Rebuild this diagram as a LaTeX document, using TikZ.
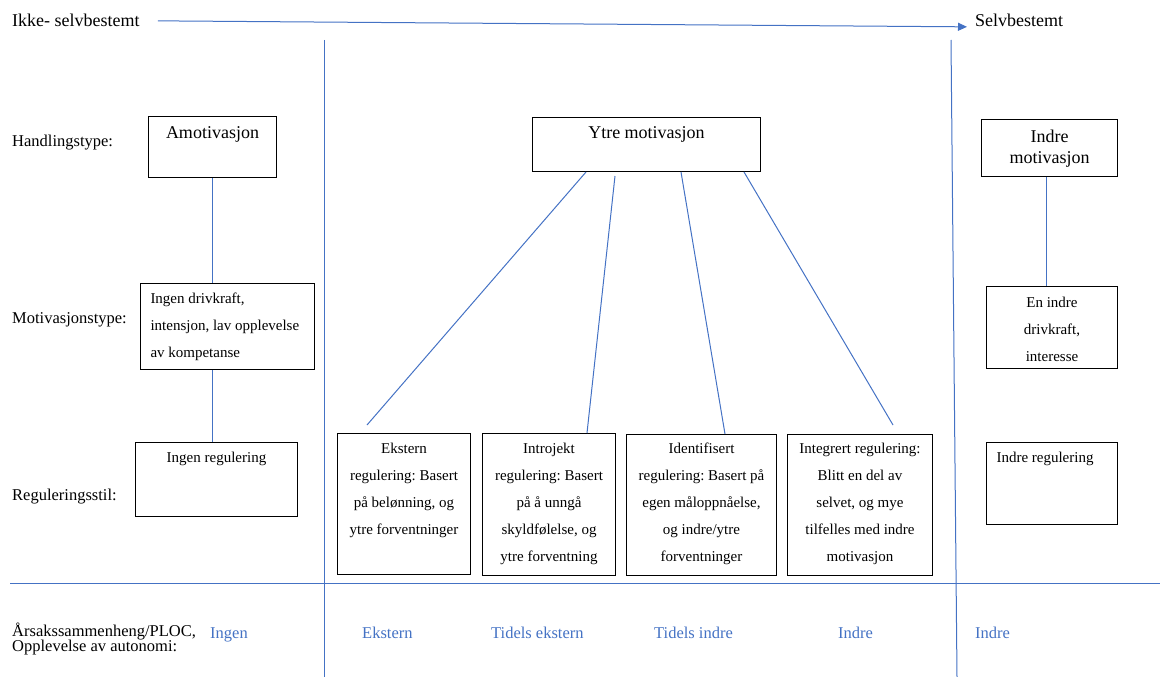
\documentclass[tikz,border=0pt]{standalone}
\usepackage{fontspec}
\setmainfont{Liberation Serif}
\usetikzlibrary{arrows.meta}
\frenchspacing

\definecolor{lineblue}{HTML}{4472C4}
\newcommand{\headfont}{\fontsize{18}{21}\selectfont}
\newcommand{\bodyfont}{\fontsize{15}{27}\selectfont}
\newcommand{\labfont}{\fontsize{16.5}{14.5}\selectfont\lineskiplimit=-10pt}
\newcommand{\firstline}[1]{\rule{0pt}{#1}}
\newcommand{\boxtxt}[3]{\parbox[c][#2][t]{#1}{#3}}

\tikzset{
  boxnode/.style={draw=black, line width=1pt, inner xsep=4pt, inner ysep=0pt, anchor=north west},
  toplabel/.style={anchor=base west, inner sep=0pt, font=\headfont},
  rowlabel/.style={anchor=base west, inner sep=0pt, font=\labfont},
  ploc/.style={rowlabel, text=lineblue},
  link/.style={draw=lineblue, line width=1pt},
  arr/.style={link, -{Triangle[length=9pt,width=8pt]}}
}

\begin{document}
\begin{tikzpicture}[x=1pt, y=-1pt]
  \useasboundingbox (0,0) rectangle (1162,677);

  \node[toplabel] (ikke) at (12,27) {Ikke- selvbestemt};
  \node[toplabel] (selv) at (975,27) {Selvbestemt};
  \draw[arr] ([xshift=18pt]ikke.east) -- ([xshift=-8pt,yshift=-6pt]selv.west);

  \draw[link] (324,40) -- (324,677);
  \draw[link] (951,40) -- (957,677);
  \draw[link] (10,583) -- (1160,583);

  \node[rowlabel] (handling) at (12,146) {Handlingstype:};
  \node[rowlabel] (motiv) at (12,323) {Motivasjonstype:};
  \node[rowlabel] (regstil) at (12,500) {Reguleringsstil:};
  \node[rowlabel, align=left] (aarsak) at (12,651) {Årsakssammenheng/PLOC,\\Opplevelse av autonomi:};

  \node[boxnode] (amo) at (148,116) {\boxtxt{120pt}{61pt}{\headfont\centering\firstline{22pt}Amotivasjon}};
  \node[boxnode] (ytre) at (532,117) {\boxtxt{220pt}{54pt}{\headfont\centering\firstline{21pt}Ytre motivasjon}};
  \node[boxnode] (indmot) at (981,119) {\boxtxt{128pt}{57pt}{\headfont\centering\firstline{23pt}Indre\\ motivasjon}};

  \node[boxnode, inner xsep=10pt] (ingdriv) at (140,283) {\boxtxt{154pt}{86pt}{\bodyfont\raggedright\firstline{20pt}Ingen drivkraft,\\ intensjon, lav opplevelse\\ av kompetanse}};
  \node[boxnode] (endriv) at (986,286) {\boxtxt{123pt}{82pt}{\bodyfont\centering\firstline{21pt}En indre\\ drivkraft,\\ interesse}};

  \node[boxnode] (ingreg) at (135,442) {\boxtxt{154pt}{74pt}{\bodyfont\centering\firstline{20pt}Ingen regulering}};
  \node[boxnode] (ekst) at (337,433) {\boxtxt{125pt}{141pt}{\bodyfont\centering\firstline{20pt}Ekstern\\ regulering: Basert\\ på belønning, og\\ ytre forventninger}};
  \node[boxnode] (intro) at (482,433) {\boxtxt{125pt}{142pt}{\bodyfont\centering\firstline{20pt}Introjekt\\ regulering: Basert\\ på å unngå\\ skyldfølelse, og\\ ytre forventning}};
  \node[boxnode] (ident) at (626,434) {\boxtxt{142pt}{141pt}{\bodyfont\centering\firstline{19pt}Identifisert\\ regulering: Basert på\\ egen måloppnåelse,\\ og indre/ytre\\ forventninger}};
  \node[boxnode] (integ) at (787,434) {\boxtxt{137pt}{141pt}{\bodyfont\centering\firstline{19pt}Integrert regulering:\\ Blitt en del av\\ selvet, og mye\\ tilfelles med indre\\ motivasjon}};
  \node[boxnode, inner xsep=10pt] (indreg) at (986,442) {\boxtxt{111pt}{82pt}{\bodyfont\raggedright\firstline{20pt}Indre regulering}};

  \draw[link] (amo.south) -- (amo.south |- ingdriv.north);
  \draw[link] (amo.south |- ingdriv.south) -- (amo.south |- ingreg.north);
  \draw[link] ([xshift=-3pt]indmot.south) -- ([xshift=-3pt]indmot.south |- endriv.north);

  \draw[link] ([xshift=54pt]ytre.south west) -- ([xshift=30pt,yshift=8pt]ekst.north west);
  \draw[link] ([xshift=83pt,yshift=-4pt]ytre.south west) -- ([xshift=105pt]intro.north west);
  \draw[link] ([xshift=149pt]ytre.south west) -- ([xshift=99pt]ident.north west);
  \draw[link] ([xshift=212pt]ytre.south west) -- ([xshift=106pt,yshift=9pt]integ.north west);

  \node[ploc] (pingen) at (210,638) {Ingen};
  \node[ploc] (pekst) at (362,638) {Ekstern};
  \node[ploc] (ptidekst) at (491,638) {Tidels ekstern};
  \node[ploc] (ptidind) at (654,638) {Tidels indre};
  \node[ploc] (pindre) at (838,638) {Indre};
  \node[ploc] (pindre2) at (975,638) {Indre};
\end{tikzpicture}
\end{document}
